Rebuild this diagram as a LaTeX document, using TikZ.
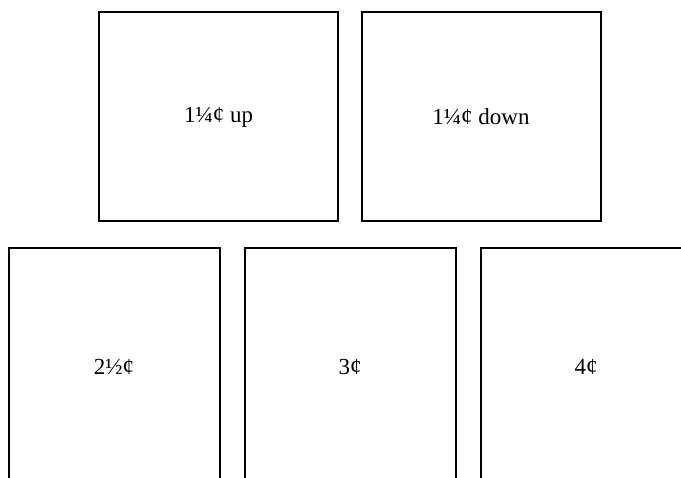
\documentclass[tikz,border=0pt]{standalone}
\usepackage{fontspec}
\setmainfont{Liberation Serif}
\tikzset{
  stampbox/.style={draw, line width=2pt, inner sep=0pt, font=\fontsize{23}{27}\selectfont},
  topstamp/.style={stampbox, minimum width=239pt, minimum height=209pt},
  lowstamp/.style={stampbox, minimum width=211pt, minimum height=238pt}
}
\begin{document}
\begin{tikzpicture}[x=1pt,y=-1pt]
\useasboundingbox (0,0) rectangle (681,478);
\clip (0,0) rectangle (681,478);

\node[topstamp] (upstamp) at (218.5,117) {1¼¢ up};
\node[topstamp] (downstamp) at (481,117) {1¼¢ down};

\node[lowstamp] (halfstamp) at (114,367) {2½¢};
\node[lowstamp] (threestamp) at (350,367) {3¢};
\node[lowstamp] (fourstamp) at (586,367) {4¢};
\end{tikzpicture}
\end{document}
